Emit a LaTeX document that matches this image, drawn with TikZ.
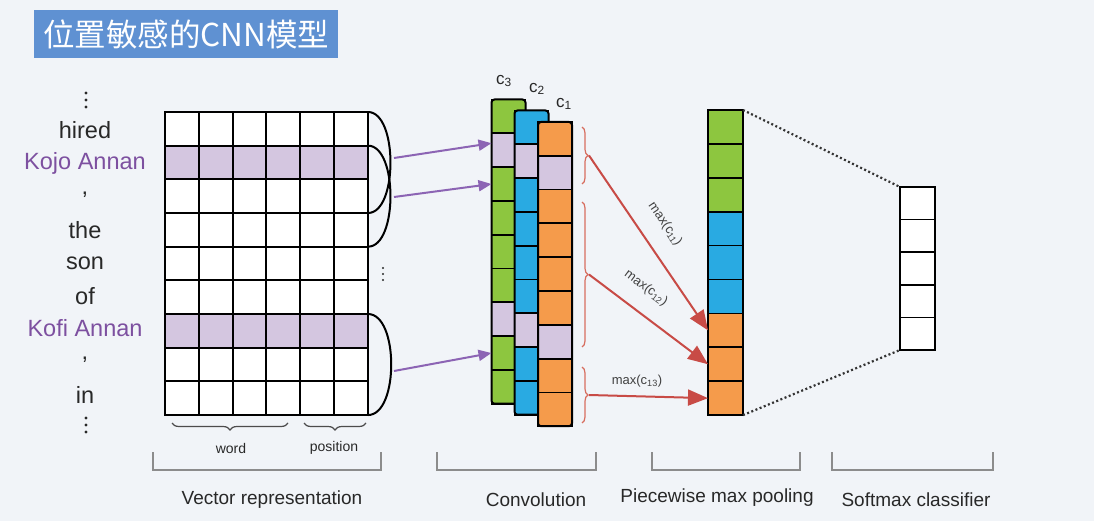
\documentclass[tikz,border=0pt]{standalone}
\usepackage{fontspec}
\setmainfont{Liberation Sans}
\newfontfamily\cjk{Noto Sans CJK SC}
\usetikzlibrary{arrows.meta,decorations.pathreplacing,calc}
\definecolor{bg}{RGB}{241,244,248}
\definecolor{titleblue}{RGB}{95,145,210}
\definecolor{lav}{RGB}{212,198,224}
\definecolor{cgreen}{RGB}{141,198,63}
\definecolor{cblue}{RGB}{41,170,226}
\definecolor{corange}{RGB}{245,155,75}
\definecolor{wordpurple}{RGB}{125,80,160}
\definecolor{arrowpurple}{RGB}{140,100,180}
\definecolor{bracered}{RGB}{215,110,95}
\definecolor{arrowred}{RGB}{200,75,70}
\definecolor{txt}{RGB}{40,40,40}
\definecolor{bracketgray}{RGB}{140,140,140}
\begin{document}
\begin{tikzpicture}[x=1pt,y=-1pt,
  gcell/.style={draw=black, line width=2pt, minimum width=33.83pt, minimum height=33.67pt, inner sep=0pt, outer sep=0pt},
  ccell/.style={draw=black, line width=1.8pt, minimum width=34pt, minimum height=33.8pt, inner sep=0pt, outer sep=0pt},
  pcell/.style={draw=black, line width=1.8pt, minimum width=35pt, minimum height=33.9pt, inner sep=0pt, outer sep=0pt},
  scell/.style={draw=black, line width=1.8pt, minimum width=35pt, minimum height=32.6pt, inner sep=0pt, outer sep=0pt, fill=white},
  word/.style={font=\fontsize{23.5}{26}\selectfont, text=txt, inner sep=0pt},
  pword/.style={word, text=wordpurple},
  arcline/.style={draw=black, line width=2pt},
  parrow/.style={draw=arrowpurple, line width=2pt, -{Triangle[length=13pt,width=11pt]}},
  rarrow/.style={draw=arrowred, line width=2pt, -{Triangle[length=20pt,width=16pt]}},
  rbrace/.style={draw=bracered, line width=1.2pt, decorate, decoration={brace, amplitude=6pt}},
  gbrace/.style={draw=black!70, line width=1.2pt, decorate, decoration={brace, amplitude=7pt}},
  bracket/.style={draw=bracketgray, line width=1.5pt},
  maxlab/.style={font=\fontsize{13}{14}\selectfont, text=black!75, inner sep=0pt},
  caplab/.style={font=\fontsize{19}{21}\selectfont, text=txt, inner sep=0pt},
  smalllab/.style={font=\fontsize{14}{15}\selectfont, text=txt, inner sep=0pt},
  clab/.style={font=\fontsize{17}{18}\selectfont, text=txt, inner sep=0pt},
  vdot/.style={fill=txt}
]
\fill[bg] (0,0) rectangle (1094,521);
\useasboundingbox (0,0) rectangle (1094,521);

% title
\node[fill=titleblue, minimum width=304pt, minimum height=48pt, anchor=north west, inner sep=0pt,
  text=white, font=\cjk\fontsize{31.5}{34}\selectfont] (title) at (34,10) {位置敏感的CNN模型};

% words
\foreach \y in {93,100,107} {\fill[vdot] (86,\y) circle (1.7);}
\node[word] (w1) at (85,130) {hired};
\node[pword] (w2) at (85,163) {Kojo Annan};
\node[word] (w3) at (85,195) {,};
\node[word] (w4) at (85,230) {the};
\node[word] (w5) at (85,263) {son};
\node[word] (w6) at (85,296) {of};
\node[pword] (w7) at (85,328) {Kofi Annan};
\node[word] (w8) at (85,360) {,};
\node[word] (w9) at (85,395) {in};
\foreach \y in {418,425,432} {\fill[vdot] (86,\y) circle (1.7);}

% vector grid
\foreach \r/\f in {0/white,1/lav,2/white,3/white,4/white,5/white,6/lav,7/white,8/white}{
  \foreach \c in {0,...,5}{
    \node[gcell, fill=\f] (v-\r-\c) at ({165+33.83*(\c+0.5)},{112+33.67*(\r+0.5)}) {};
  }
}
% arcs
\draw[arcline] (v-0-5.north east) .. controls +(30,0) and +(30,0) .. (v-2-5.south east);
\draw[arcline] (v-1-5.north east) .. controls +(30,0) and +(30,0) .. (v-3-5.south east);
\draw[arcline] (v-6-5.north east) .. controls +(31,0) and +(31,0) .. (v-8-5.south east);
\foreach \y in {268,274,280} {\fill[vdot] (383,\y) circle (1.2);}

% convolution columns
\foreach \i/\f in {1/cgreen,2/lav,3/cgreen,4/cgreen,5/cgreen,6/cgreen,7/lav,8/cgreen,9/cgreen}{
  \node[ccell, fill=\f] (g\i) at (508.5,{99.5+33.8*(\i-0.5)}) {};
}
\draw[line width=2pt, rounded corners=3pt] (491.5,99.5) rectangle (525.5,403.7);
\foreach \i/\f in {1/cblue,2/lav,3/cblue,4/cblue,5/cblue,6/cblue,7/lav,8/cblue,9/cblue}{
  \node[ccell, fill=\f] (b\i) at (531.5,{110.5+33.8*(\i-0.5)}) {};
}
\draw[line width=2pt, rounded corners=3pt] (514.5,110.5) rectangle (548.5,414.7);
\foreach \i/\f in {1/corange,2/lav,3/corange,4/corange,5/corange,6/corange,7/lav,8/corange,9/corange}{
  \node[ccell, fill=\f] (o\i) at (555,{122+33.8*(\i-0.5)}) {};
}
\draw[line width=2pt, rounded corners=3pt] (538,122) rectangle (572,426.2);

\node[clab] (c3) at (504,81) {c\textsubscript{3}};
\node[clab] (c2) at (537,89) {c\textsubscript{2}};
\node[clab] (c1) at (564,104) {c\textsubscript{1}};

% purple arrows
\coordinate (a1) at (394,158);
\coordinate (a2) at (394,197);
\coordinate (a3) at (394,371);
\draw[parrow] (a1) -- ($(g2.west)+(0,-7)$);
\draw[parrow] (a2) -- (g3.west);
\draw[parrow] (a3) -- (g8.west);

% pooling column
\foreach \i/\f in {1/cgreen,2/cgreen,3/cgreen,4/cblue,5/cblue,6/cblue,7/corange,8/corange,9/corange}{
  \node[pcell, fill=\f] (p\i) at (725.5,{110+33.9*(\i-0.5)}) {};
}
% softmax column
\foreach \i in {1,...,5}{
  \node[scell] (s\i) at (917.5,{187+32.6*(\i-0.5)}) {};
}
\draw[line width=2.2pt, dash pattern=on 2pt off 2.5pt, black!80] (p1.north east) -- (s1.north west);
\draw[line width=2.2pt, dash pattern=on 2pt off 2.5pt, black!80] (p9.south east) -- (s5.south west);

% red braces
\draw[rbrace] (582,127) -- (582,184);
\draw[rbrace] (582,202) -- (582,347);
\draw[rbrace] (582,367) -- (582,423);
\coordinate (t1) at (589,155.5);
\coordinate (t2) at (589,274.5);
\coordinate (t3) at (589,395);
\draw[rarrow] (t1) -- (p7.west);
\draw[rarrow] (t2) -- (p8.west);
\draw[rarrow] (t3) -- (p9.west);
\node[maxlab, rotate=-55.6] (m1) at (665,224) {max(c\textsubscript{11})};
\node[maxlab, rotate=-36.6] (m2) at (646,288) {max(c\textsubscript{12})};
\node[maxlab] (m3) at (637,381) {max(c\textsubscript{13})};

% bottom braces
\draw[gbrace] (288,423) -- (172,423);
\draw[gbrace] (366,423) -- (304,423);
\node[smalllab] (wl) at (231,448) {word};
\node[smalllab] (pl) at (334,448) {position};

% brackets
\draw[bracket] (153,452) -- (153,470) -- (381,470) -- (381,452);
\draw[bracket] (437,452) -- (437,470) -- (596,470) -- (596,452);
\draw[bracket] (652,452) -- (652,470) -- (800,470) -- (800,452);
\draw[bracket] (832,452) -- (832,470) -- (993,470) -- (993,452);
\node[caplab] (l1) at (272,500) {Vector representation};
\node[caplab] (l2) at (536,500) {Convolution};
\node[caplab] (l3) at (717,498) {Piecewise max pooling};
\node[caplab] (l4) at (916,500) {Softmax classifier};
\end{tikzpicture}
\end{document}
